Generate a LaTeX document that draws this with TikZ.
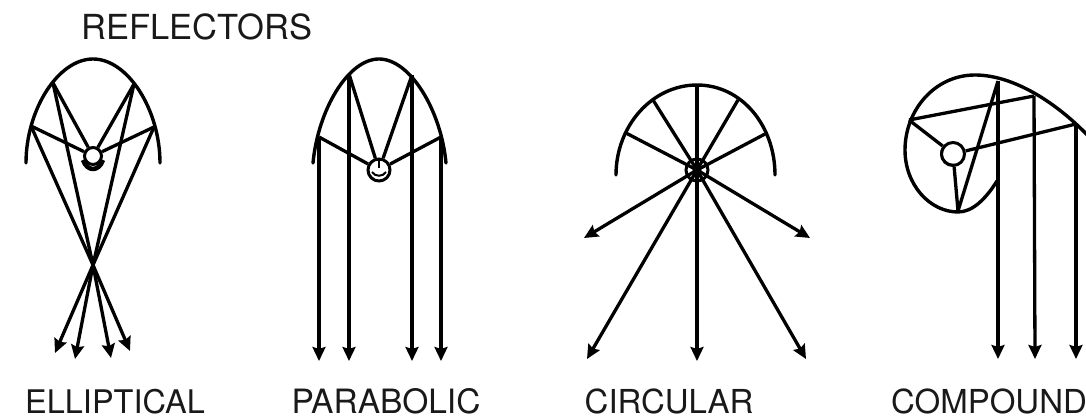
\documentclass[tikz,border=0pt]{standalone}
\usepackage{fontspec}
\setmainfont{TeX Gyre Heros}
\usetikzlibrary{arrows.meta}
\tikzset{
    mirror/.style={line width=3.4pt, line cap=round, line join=round},
    ray/.style={line width=3.3pt},
    beam/.style={line width=3.3pt, -{Stealth[length=14pt, width=13pt, inset=2pt]}},
    lamp/.style={circle, draw, line width=3pt, inner sep=0, minimum size=#1},
    caption/.style={inner sep=0, anchor=base, font=\fontsize{#1}{36}\selectfont, text=black!90},
}

\begin{document}
\begin{tikzpicture}[x=1pt, y=-1pt]
    \useasboundingbox (0,0) rectangle (1086,419);

    \node[caption=34.5] (title) at (197,40) {REFLECTORS};
    \node[caption=32.5] (ell) at (115,413) {ELLIPTICAL};
    \node[caption=33.5] (par) at (386,413) {PARABOLIC};
    \node[caption=33] (cir) at (669,413) {CIRCULAR};
    \node[caption=33] (com) at (989,413) {COMPOUND};

    % elliptical
    \node[lamp=17pt] (elamp) at (93,156) {};
    \coordinate (e1) at (31,126);
    \coordinate (e2) at (53,83);
    \coordinate (e3) at (134,84);
    \coordinate (e4) at (154,127);
    \coordinate (efocus) at (93,265);
    \draw[mirror] (26,163) .. controls (26,110) and (58,59) .. (93,59) .. controls (128,59) and (160,110) .. (160,163);
    \draw[ray] (e1) -- (elamp);
    \draw[ray] (e2) -- (elamp);
    \draw[ray] (e3) -- (elamp);
    \draw[ray] (e4) -- (elamp);
    \draw[ray] (e1) -- (efocus);
    \draw[ray] (e2) -- (efocus);
    \draw[ray] (e3) -- (efocus);
    \draw[ray] (e4) -- (efocus);
    \draw[beam] (efocus) -- (130,351);
    \draw[beam] (efocus) -- (111,358);
    \draw[beam] (efocus) -- (75,359);
    \draw[beam] (efocus) -- (55,353);
    \draw[line width=4.5pt] (83,160) .. controls (87,172) and (99,172) .. (103,160);

    % parabolic
    \node[lamp=22pt] (plamp) at (379,170) {};
    \coordinate (p1) at (319,137);
    \coordinate (p2) at (349,74);
    \coordinate (p3) at (412,75);
    \coordinate (p4) at (441,137);
    \draw[mirror] (313,163) .. controls (318,110) and (348,59) .. (379,59) .. controls (410,59) and (441,110) .. (446,163);
    \draw[ray] (p1) -- (plamp);
    \draw[ray] (p2) -- (plamp);
    \draw[ray] (p3) -- (plamp);
    \draw[ray] (p4) -- (plamp);
    \draw[beam] (p1) -- (319,361);
    \draw[beam] (p2) -- (349,361);
    \draw[beam] (p3) -- (412,361);
    \draw[beam] (p4) -- (441,361);
    \draw[line width=2pt] (372,172) .. controls (375,177) and (383,177) .. (386,172);
    \draw[line width=2pt] (379,160) -- (379,168);

    % circular
    \node[lamp=22pt] (clamp) at (697,170) {};
    \draw[mirror] (616,175) .. controls (616,126) and (652,85) .. (697,85) .. controls (742,85) and (775,126) .. (775,175);
    \draw[ray] (clamp.center) -- (626,133);
    \draw[ray] (clamp.center) -- (653,100);
    \draw[ray] (clamp.center) -- (697,85);
    \draw[ray] (clamp.center) -- (738,100);
    \draw[ray] (clamp.center) -- (765,134);
    \draw[beam] (clamp.center) -- (584,238);
    \draw[beam] (clamp.center) -- (587,359);
    \draw[beam] (clamp.center) -- (697,361);
    \draw[beam] (clamp.center) -- (806,359);
    \draw[beam] (clamp.center) -- (810,238);
    \fill (clamp.center) circle (4.5pt);

    % compound
    \node[lamp=23pt] (qlamp) at (953,154) {};
    \coordinate (q1) at (909,120);
    \coordinate (q2) at (998,81);
    \coordinate (q3) at (1034,96);
    \coordinate (q4) at (1076,124);
    \coordinate (q5) at (958,211);
    \draw[mirror] (997,181) .. controls (985,200) and (972,212) .. (958,212) .. controls (930,212) and (905,185) .. (905,150) .. controls (905,110) and (935,75) .. (975,75) .. controls (1015,75) and (1060,105) .. (1092,140);
    \draw[ray] (q1) -- (q3);
    \draw[ray] (q1) -- (qlamp);
    \draw[ray] (q2) -- (q5);
    \draw[ray] (q5) -- (qlamp);
    \draw[ray] (q4) -- (qlamp);
    \draw[beam] (q2) -- (998,359);
    \draw[beam] (q3) -- (1035,359);
    \draw[beam] (q4) -- (1076,359);
    \draw[line width=2.4pt] (943,148) .. controls (938,156) and (945,166) .. (955,165);
\end{tikzpicture}
\end{document}
